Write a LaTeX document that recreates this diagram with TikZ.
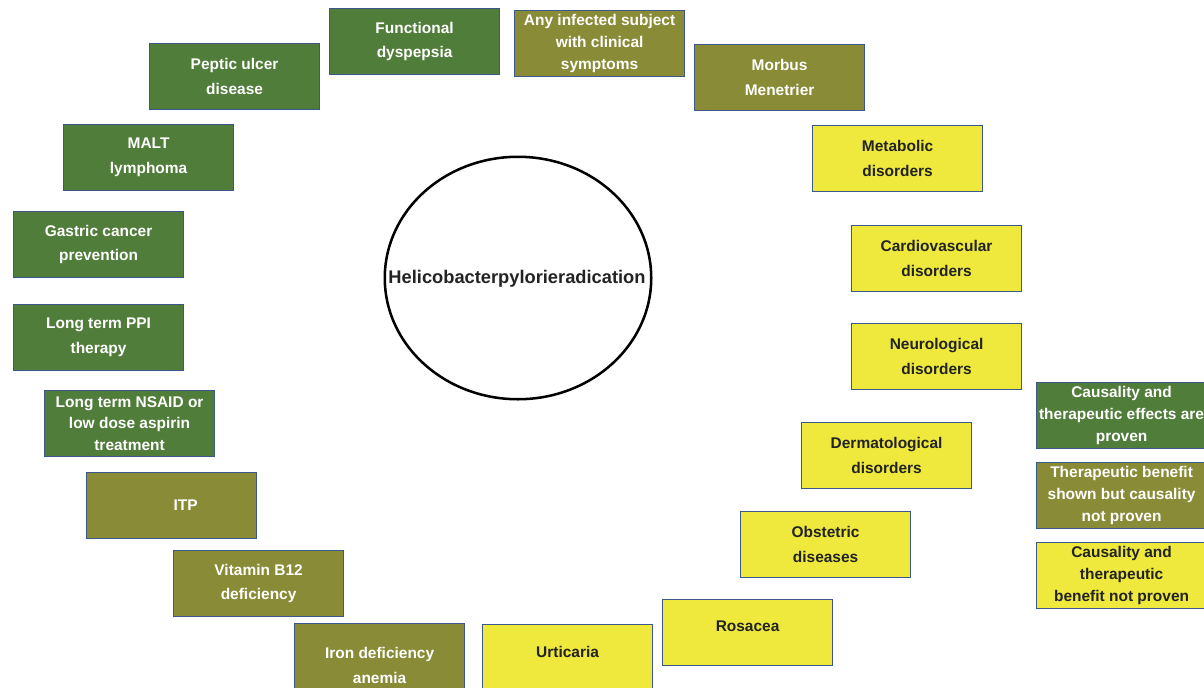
\documentclass[tikz,border=0pt]{standalone}
\usepackage{fontspec}
\setmainfont{Liberation Sans}
\definecolor{provenGreen}{RGB}{81,125,58}
\definecolor{benefitOlive}{RGB}{137,139,54}
\definecolor{unprovenYellow}{RGB}{238,233,60}
\definecolor{boxEdge}{RGB}{58,88,140}
\definecolor{darkText}{RGB}{35,35,35}
\newcommand{\ThreeLines}{\fontsize{11}{15.5}\selectfont\bfseries}

\begin{document}
\begin{tikzpicture}[x=0.025cm,y=-0.025cm,
  disease/.style={draw=boxEdge,line width=0.8pt,anchor=north west,minimum width=4.25cm,minimum height=1.65cm,inner sep=1pt,align=center,font=\fontsize{11}{17.5}\selectfont\bfseries},
  proven/.style={disease,fill=provenGreen,text=white},
  benefit/.style={disease,fill=benefitOlive,text=white},
  unproven/.style={disease,fill=unprovenYellow,text=darkText}]
\clip (0,0) rectangle (1204,687);
\fill[white] (0,0) rectangle (1204,687);
% centre
\node (hp) [font=\fontsize{13}{15}\selectfont\bfseries,text=darkText] at (517,279) {Helicobacterpylorieradication};
\draw[line width=1.8pt] (518,278) ellipse [x radius=3.33cm, y radius=3.03cm];
% green: causality and therapeutic effects proven
\node (fd) [proven] at (329,8) {Functional\\dyspepsia};
\node (pud) [proven] at (149,43) {Peptic ulcer\\disease};
\node (malt) [proven] at (63,124) {MALT\\lymphoma};
\node (gcp) [proven] at (13,211) {Gastric cancer\\prevention};
\node (ppi) [proven] at (13,304) {Long term PPI\\therapy};
\node (nsaid) [proven,font=\ThreeLines] at (44,390) {Long term NSAID or\\low dose aspirin\\treatment};
% olive: benefit shown, causality not proven
\node (any) [benefit,font=\ThreeLines] at (514,10) {Any infected subject\\with clinical\\symptoms};
\node (mm) [benefit] at (694,44) {Morbus\\Menetrier};
\node (itp) [benefit] at (86,472) {\hspace*{0.7cm}ITP};
\node (b12) [benefit] at (173,550) {Vitamin B12\\deficiency};
\node (ida) [benefit] at (294,623) {\rule{0pt}{21pt}Iron deficiency\\anemia};
% yellow: not proven
\node (meta) [unproven] at (812,125) {Metabolic\\disorders};
\node (cvd) [unproven] at (851,225) {Cardiovascular\\disorders};
\node (neuro) [unproven] at (851,323) {Neurological\\disorders};
\node (derm) [unproven] at (801,422) {Dermatological\\disorders};
\node (obst) [unproven] at (740,511) {Obstetric\\diseases};
\node (ros) [unproven] at (662,599) {\raisebox{8.5pt}{Rosacea}};
\node (urt) [unproven] at (482,624) {\raisebox{8.5pt}{Urticaria}};
% legend
\node (keyG) [proven,font=\ThreeLines,inner sep=0pt] at (1036,382) {Causality and\\therapeutic effects are\\proven};
\node (keyO) [benefit,font=\ThreeLines] at (1036,462) {Therapeutic benefit\\shown but causality\\not proven};
\node (keyY) [unproven,font=\ThreeLines] at (1036,542) {Causality and\\therapeutic\\benefit not proven};
\end{tikzpicture}
\end{document}
